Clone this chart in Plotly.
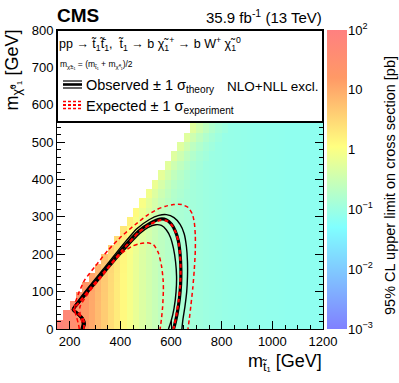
import numpy as np
import plotly.graph_objects as go

FONT = "Liberation Sans, Arial, Helvetica, sans-serif"
_ = None

# ---------------- data ----------------
MSTOP_EDGES = list(range(150, 1201, 25))   # 42 bins
MLSP_EDGES = list(range(0, 576, 25))       # 23 bins

# 95% CL upper limit on cross section [pb], one row per m_LSP bin (bottom -> top)
LIMIT_ROWS = [
    [72, 50, 34, 23, 15.3, 10.1, 6.5, 4.2, 2.8, 1.9, 1.3, 0.9, 0.65, 0.48, 0.37, 0.29, 0.23, 0.19, 0.16, 0.145, 0.13, 0.12, 0.112, 0.105, 0.099, 0.094, 0.09, 0.087, 0.085, 0.083, 0.081, 0.08, 0.079, 0.078, 0.077, 0.076, 0.075, 0.075, 0.074, 0.074, 0.073, 0.073],
    [_] * 1 + [54, 36, 23.5, 15.6, 10.2, 6.6, 4.2, 2.8, 1.9, 1.3, 0.9, 0.65, 0.48, 0.37, 0.29, 0.23, 0.19, 0.16, 0.145, 0.13, 0.12, 0.112, 0.105, 0.099, 0.094, 0.09, 0.087, 0.085, 0.083, 0.081, 0.08, 0.079, 0.078, 0.077, 0.076, 0.075, 0.075, 0.074, 0.074, 0.073, 0.073],
    [_] * 2 + [38, 24.6, 16, 10.4, 6.6, 4.2, 2.8, 1.9, 1.3, 0.9, 0.65, 0.48, 0.37, 0.29, 0.23, 0.19, 0.16, 0.145, 0.13, 0.12, 0.112, 0.105, 0.099, 0.094, 0.09, 0.087, 0.085, 0.083, 0.081, 0.08, 0.079, 0.078, 0.077, 0.076, 0.075, 0.075, 0.074, 0.074, 0.073, 0.073],
    [_] * 3 + [26.4, 16.8, 10.7, 6.8, 4.3, 2.8, 1.9, 1.3, 0.9, 0.65, 0.48, 0.37, 0.29, 0.23, 0.19, 0.16, 0.145, 0.13, 0.12, 0.112, 0.105, 0.099, 0.094, 0.09, 0.087, 0.085, 0.083, 0.081, 0.08, 0.079, 0.078, 0.077, 0.076, 0.075, 0.075, 0.074, 0.074, 0.073, 0.073],
    [_] * 4 + [18, 11.2, 7.0, 4.4, 2.86, 1.9, 1.3, 0.9, 0.65, 0.48, 0.37, 0.29, 0.23, 0.19, 0.16, 0.145, 0.13, 0.12, 0.112, 0.105, 0.099, 0.094, 0.09, 0.087, 0.085, 0.083, 0.081, 0.08, 0.079, 0.078, 0.077, 0.076, 0.075, 0.075, 0.074, 0.074, 0.073, 0.073],
    [_] * 5 + [12, 7.3, 4.5, 2.9, 1.94, 1.3, 0.9, 0.65, 0.48, 0.37, 0.29, 0.23, 0.19, 0.16, 0.145, 0.13, 0.12, 0.112, 0.105, 0.099, 0.094, 0.09, 0.087, 0.085, 0.083, 0.081, 0.08, 0.079, 0.078, 0.077, 0.076, 0.075, 0.075, 0.074, 0.074, 0.073, 0.073],
    [_] * 6 + [8.1, 4.8, 3.05, 2.0, 1.33, 0.91, 0.65, 0.48, 0.37, 0.29, 0.23, 0.19, 0.16, 0.145, 0.13, 0.12, 0.112, 0.105, 0.099, 0.094, 0.09, 0.087, 0.085, 0.083, 0.081, 0.08, 0.079, 0.078, 0.077, 0.076, 0.075, 0.075, 0.074, 0.074, 0.073, 0.073],
    [_] * 7 + [5.5, 3.3, 2.1, 1.38, 0.93, 0.66, 0.48, 0.37, 0.29, 0.23, 0.19, 0.16, 0.145, 0.13, 0.12, 0.112, 0.105, 0.099, 0.094, 0.09, 0.087, 0.085, 0.083, 0.081, 0.08, 0.079, 0.078, 0.077, 0.076, 0.075, 0.075, 0.074, 0.074, 0.073, 0.073],
    [_] * 8 + [3.9, 2.36, 1.48, 0.97, 0.68, 0.49, 0.37, 0.29, 0.23, 0.19, 0.16, 0.145, 0.13, 0.12, 0.112, 0.105, 0.099, 0.094, 0.09, 0.087, 0.085, 0.083, 0.081, 0.08, 0.079, 0.078, 0.077, 0.076, 0.075, 0.075, 0.074, 0.074, 0.073, 0.073],
    [_] * 9 + [2.85, 1.69, 1.06, 0.72, 0.5, 0.38, 0.29, 0.23, 0.19, 0.16, 0.145, 0.13, 0.12, 0.112, 0.105, 0.099, 0.094, 0.09, 0.087, 0.085, 0.083, 0.081, 0.08, 0.079, 0.078, 0.077, 0.076, 0.075, 0.075, 0.074, 0.074, 0.073, 0.073],
    [_] * 10 + [2.1, 1.22, 0.79, 0.54, 0.39, 0.3, 0.23, 0.19, 0.16, 0.145, 0.13, 0.12, 0.112, 0.105, 0.099, 0.094, 0.09, 0.087, 0.085, 0.083, 0.081, 0.08, 0.079, 0.078, 0.077, 0.076, 0.075, 0.075, 0.074, 0.074, 0.073, 0.073],
    [_] * 11 + [1.58, 0.94, 0.6, 0.43, 0.31, 0.24, 0.19, 0.16, 0.145, 0.13, 0.12, 0.112, 0.105, 0.099, 0.094, 0.09, 0.087, 0.085, 0.083, 0.081, 0.08, 0.079, 0.078, 0.077, 0.076, 0.075, 0.075, 0.074, 0.074, 0.073, 0.073],
    [_] * 12 + [1.24, 0.74, 0.49, 0.34, 0.25, 0.2, 0.16, 0.145, 0.13, 0.12, 0.112, 0.105, 0.099, 0.094, 0.09, 0.087, 0.085, 0.083, 0.081, 0.08, 0.079, 0.078, 0.077, 0.076, 0.075, 0.075, 0.074, 0.074, 0.073, 0.073],
    [_] * 13 + [0.98, 0.6, 0.4, 0.28, 0.21, 0.17, 0.145, 0.13, 0.12, 0.112, 0.105, 0.099, 0.094, 0.09, 0.087, 0.085, 0.083, 0.081, 0.08, 0.079, 0.078, 0.077, 0.076, 0.075, 0.075, 0.074, 0.074, 0.073, 0.073],
    [_] * 14 + [0.81, 0.5, 0.33, 0.24, 0.18, 0.154, 0.13, 0.12, 0.112, 0.105, 0.099, 0.094, 0.09, 0.087, 0.085, 0.083, 0.081, 0.08, 0.079, 0.078, 0.077, 0.076, 0.075, 0.075, 0.074, 0.074, 0.073, 0.073],
    [_] * 15 + [0.7, 0.42, 0.28, 0.2, 0.165, 0.139, 0.12, 0.112, 0.105, 0.099, 0.094, 0.09, 0.087, 0.085, 0.083, 0.081, 0.08, 0.079, 0.078, 0.077, 0.076, 0.075, 0.075, 0.074, 0.074, 0.073, 0.073],
    [_] * 16 + [0.61, 0.38, 0.25, 0.193, 0.151, 0.13, 0.112, 0.105, 0.099, 0.094, 0.09, 0.087, 0.085, 0.083, 0.081, 0.08, 0.079, 0.078, 0.077, 0.076, 0.075, 0.075, 0.074, 0.074, 0.073, 0.073],
    [_] * 17 + [0.55, 0.34, 0.24, 0.18, 0.143, 0.123, 0.105, 0.099, 0.094, 0.09, 0.087, 0.085, 0.083, 0.081, 0.08, 0.079, 0.078, 0.077, 0.076, 0.075, 0.075, 0.074, 0.074, 0.073, 0.073],
    [_] * 18 + [0.51, 0.34, 0.23, 0.173, 0.137, 0.117, 0.099, 0.094, 0.09, 0.087, 0.085, 0.083, 0.081, 0.08, 0.079, 0.078, 0.077, 0.076, 0.075, 0.075, 0.074, 0.074, 0.073, 0.073],
    [_] * 19 + [0.52, 0.33, 0.23, 0.17, 0.132, 0.112, 0.094, 0.09, 0.087, 0.085, 0.083, 0.081, 0.08, 0.079, 0.078, 0.077, 0.076, 0.075, 0.075, 0.074, 0.074, 0.073, 0.073],
    [_] * 20 + [0.52, 0.34, 0.23, 0.168, 0.129, 0.108, 0.09, 0.087, 0.085, 0.083, 0.081, 0.08, 0.079, 0.078, 0.077, 0.076, 0.075, 0.075, 0.074, 0.074, 0.073, 0.073],
    [_] * 21 + [0.54, 0.35, 0.234, 0.168, 0.127, 0.106, 0.087, 0.085, 0.083, 0.081, 0.08, 0.079, 0.078, 0.077, 0.076, 0.075, 0.075, 0.074, 0.074, 0.073, 0.073],
    [_] * 22 + [0.56, 0.36, 0.238, 0.169, 0.126, 0.104, 0.085, 0.083, 0.081, 0.08, 0.079, 0.078, 0.077, 0.076, 0.075, 0.075, 0.074, 0.074, 0.073, 0.073],
]
assert all(len(r) == len(MSTOP_EDGES) - 1 for r in LIMIT_ROWS)
assert len(LIMIT_ROWS) == len(MLSP_EDGES) - 1

# exclusion contours (m_stop, m_LSP) in GeV
OBS_X = [250, 256, 248, 230, 214, 240, 274, 339, 405, 471, 520, 556, 582, 602, 617, 629, 636, 639, 638, 633, 624, 616, 610]
OBS_Y = [0, 14, 30, 42, 52, 76, 105, 158, 212, 261, 284, 294, 292, 280, 262, 236, 200, 160, 120, 80, 40, 15, 0]
OBS_UP_X = [245, 250, 243, 226, 211, 236, 270, 335, 400, 465, 515, 552, 582, 612, 636, 652, 661, 665, 665, 662, 655, 647, 643]
OBS_UP_Y = [0, 14, 30, 42, 52, 78, 108, 162, 217, 268, 293, 304, 306, 298, 280, 255, 220, 180, 140, 100, 60, 25, 0]
OBS_DN_X = [255, 262, 253, 234, 218, 244, 278, 343, 410, 476, 510, 540, 562, 582, 598, 610, 618, 622, 620, 612, 600, 590]
OBS_DN_Y = [0, 14, 30, 42, 52, 74, 102, 154, 207, 255, 272, 279, 277, 265, 245, 215, 180, 140, 100, 55, 20, 0]

EXP_X = [252, 258, 250, 232, 216, 242, 276, 341, 407, 473, 520, 556, 584, 604, 619, 630, 636, 638, 636, 630, 621, 613, 610]
EXP_Y = [0, 14, 30, 42, 52, 75, 104, 156, 210, 259, 281, 291, 289, 277, 258, 232, 196, 156, 116, 76, 36, 10, 0]
EXP_UP_X = [238, 235, 228, 220, 222, 238, 260, 300, 353, 405, 458, 510, 545, 576, 610, 642, 668, 684, 692, 696, 696, 692, 686, 678, 672, 667]
EXP_UP_Y = [0, 12, 30, 50, 70, 100, 132, 167, 212, 248, 279, 306, 320, 328, 333, 333, 325, 308, 285, 250, 210, 160, 110, 60, 25, 0]
EXP_DN_X = [258, 250, 241, 241, 274, 326, 379, 410, 445, 475, 505, 530, 550, 563, 569, 570, 567, 562, 557]
EXP_DN_Y = [0, 15, 40, 60, 96, 140, 185, 205, 221, 228, 231, 226, 204, 167, 130, 105, 60, 25, 0]

CB_TICKVALS = [1e-3, 1e-2, 1e-1, 1, 10, 100]
CB_TICKTEXT = ["10<sup>−3</sup>", "10<sup>−2</sup>", "10<sup>−1</sup>", "1", "10", "10<sup>2</sup>"]
CB_TITLE = "95% CL upper limit on cross section [pb]"

# ---------------- geometry helpers (pixels -> paper) ----------------
W, H = 399, 383
ML, MR, MT, MB = 57, 5, 30, 54
PW, PH = W - ML - MR, H - MT - MB


def px(xp):
    return (xp - ML) / PW


def py(yp):
    return (H - MB - yp) / PH


X_RIGHT = px(323)

z = np.array([[np.nan if v is None else v for v in row] for row in LIMIT_ROWS], dtype=float)
zlog = np.log10(z)
zlist = [[None if np.isnan(v) else float(v) for v in row] for row in zlog]

SMS_SCALE = [
    [0.0, "rgb(128,128,255)"],
    [0.34, "rgb(128,255,255)"],
    [0.61, "rgb(255,255,128)"],
    [0.84, "rgb(255,153,102)"],
    [1.0, "rgb(255,128,128)"],
]

fig = go.Figure()
fig.add_trace(go.Heatmap(
    x=MSTOP_EDGES, y=MLSP_EDGES, z=zlist, zmin=-3, zmax=2,
    colorscale=SMS_SCALE, hoverinfo="skip",
    colorbar=dict(x=px(327), xanchor="left", xref="paper", xpad=0, ypad=0,
                  thickness=20, thicknessmode="pixels",
                  len=1, lenmode="fraction", y=0.5, yanchor="middle",
                  outlinewidth=0, showticklabels=False, ticks=""),
))


def line(xs, ys, color, width, dash=None):
    fig.add_trace(go.Scatter(
        x=xs, y=ys, mode="lines", showlegend=False, hoverinfo="skip",
        line=dict(color=color, width=width, dash=dash, shape="spline", smoothing=0.6),
    ))


line(OBS_UP_X, OBS_UP_Y, "black", 1.4)
line(OBS_DN_X, OBS_DN_Y, "black", 1.4)
line(OBS_X, OBS_Y, "black", 3.2)
line(EXP_UP_X, EXP_UP_Y, "red", 1.5, "4px,3px")
line(EXP_DN_X, EXP_DN_Y, "red", 1.5, "4px,3px")
line(EXP_X, EXP_Y, "red", 2.2, "4px,3px")

# invisible trace to carry the colour-bar axis
fig.add_trace(go.Scatter(x=[None], y=[None], yaxis="y3", showlegend=False, hoverinfo="skip"))

tickfont = dict(family=FONT, size=13, color="black")
fig.update_layout(
    width=W, height=H, margin=dict(l=ML, r=MR, t=MT, b=MB, autoexpand=False),
    paper_bgcolor="white", plot_bgcolor="white",
    xaxis=dict(domain=[0, X_RIGHT], range=[150, 1200], tick0=0, dtick=200,
               ticks="inside", ticklen=8, tickwidth=1, tickcolor="black",
               minor=dict(ticks="inside", dtick=50, ticklen=4, tickcolor="black"),
               showline=True, linecolor="black", linewidth=1, mirror="ticks",
               showgrid=False, zeroline=False, tickfont=tickfont),
    yaxis=dict(domain=[0, 1], range=[0, 800], tick0=0, dtick=100,
               ticks="inside", ticklen=8, tickwidth=1, tickcolor="black",
               minor=dict(ticks="inside", dtick=20, ticklen=4, tickcolor="black"),
               showline=True, linecolor="black", linewidth=1, mirror="ticks",
               showgrid=False, zeroline=False, tickfont=tickfont),
    yaxis3=dict(overlaying="y", anchor="free", position=px(347), side="right",
                type="log", range=[-3, 2], tickvals=CB_TICKVALS, ticktext=CB_TICKTEXT,
                ticks="inside", ticklen=8, tickcolor="black",
                minor=dict(ticks="inside", dtick="D1", ticklen=4, tickcolor="black"),
                showline=False, showgrid=False, zeroline=False, tickfont=tickfont),
)

# legend box
fig.add_shape(type="rect", xref="paper", yref="paper", x0=0, x1=X_RIGHT, y0=py(122), y1=1,
              fillcolor="white", line=dict(color="black", width=2), layer="above")
# legend line samples
for yy, wdt in [(81, 1.2), (84.5, 2.6), (88, 1.2)]:
    fig.add_shape(type="line", xref="paper", yref="paper", x0=px(63), x1=px(82), y0=py(yy), y1=py(yy),
                  line=dict(color="black", width=wdt), layer="above")
for yy, wdt in [(101.5, 1.6), (105, 2.2), (108.5, 1.6)]:
    fig.add_shape(type="line", xref="paper", yref="paper", x0=px(63), x1=px(82), y0=py(yy), y1=py(yy),
                  line=dict(color="red", width=wdt, dash="3px,2px"), layer="above")


def ann(text, x, y, size, xanchor="left", yanchor="middle", angle=0):
    fig.add_annotation(text=text, x=x, y=y, xref="paper", yref="paper", showarrow=False,
                       xanchor=xanchor, yanchor=yanchor, textangle=angle, borderpad=0,
                       font=dict(family=FONT, size=size, color="black"))


ann("pp → t̃<sub>1</sub>t̃̄<sub>1</sub>,  t̃<sub>1</sub> → b χ̃<sub>1</sub><sup>+</sup> → b W<sup>+</sup> χ̃<sub>1</sub><sup>0</sup>",
    px(58), py(44), 12.5)
ann("m<sub>χ̃±₁</sub> = (m<sub>t̃₁</sub> + m<sub>χ̃⁰₁</sub>)/2", px(59), py(64), 8.5)
ann("Observed ± 1 σ<sub>theory</sub>", px(85), py(86), 14.5)
ann("Expected ± 1 σ<sub>experiment</sub>", px(85), py(107), 14.5)
ann("NLO+NLL excl.", px(319), py(86), 13.5, xanchor="right")
ann("<b>CMS</b>", px(56), py(15), 19)
ann("35.9 fb<sup>-1</sup> (13 TeV)", X_RIGHT, py(16), 15, xanchor="right")
ann("m<sub>t̃₁</sub> [GeV]", X_RIGHT, py(362), 18, xanchor="right")
ann("m<sub>χ̃⁰₁</sub> [GeV]", px(13), py(28), 18, xanchor="center", yanchor="top", angle=-90)
ann(CB_TITLE, px(390), py(186), 14.5, xanchor="center", angle=-90)

# the page body has a default 8px margin; remove it so the 399x383 figure fills the window
fig.write_html("out.html", config={"displayModeBar": False, "staticPlot": True},
               post_script="document.body.style.margin='0';document.body.style.overflow='hidden';")
